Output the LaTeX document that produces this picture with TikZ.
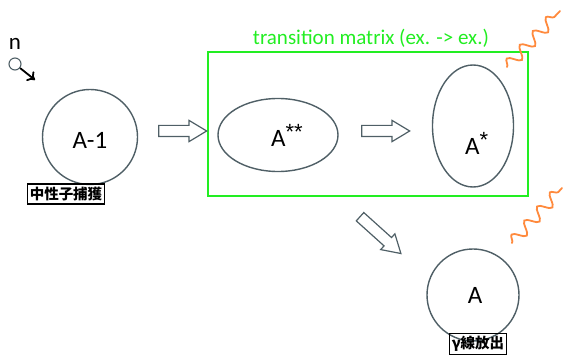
\documentclass[tikz,border=0pt]{standalone}
\usepackage{fontspec}
\setmainfont{Carlito}
\newfontfamily\cjkfont{Noto Sans CJK JP}
\newfontfamily\starfont{Liberation Sans}
\usetikzlibrary{shapes.arrows,shapes.geometric,decorations.pathmorphing,arrows.meta}
\definecolor{rim}{HTML}{4F5F66}
\definecolor{boxgreen}{HTML}{22EE22}
\definecolor{wavecol}{HTML}{FF8A3D}

% raised asterisks for excited states
\newcommand{\starsup}[1]{\raisebox{7pt}{\starfont\fontsize{22}{22}\selectfont #1}}

\begin{document}
\begin{tikzpicture}[x=1pt,y=-1pt,
  nucleus/.style={draw=rim, line width=1.4pt, inner sep=0pt},
  lbl/.style={font=\fontsize{25}{28}\selectfont, inner sep=0pt},
  hollow/.style={single arrow, draw=rim, line width=1.2pt, inner xsep=0pt, inner ysep=5pt,
    minimum height=48pt, single arrow head extend=5pt,
    single arrow tip angle=62},
  tag/.style={draw=black, line width=1.2pt, inner xsep=2.5pt, inner ysep=3pt,
    font=\cjkfont\bfseries\fontsize{14.5}{16}\selectfont},
  photon/.style={draw=wavecol, line width=1.8pt, line cap=round, decorate,
    decoration={snake, amplitude=6pt, segment length=19pt}},
]
\useasboundingbox (0,0) rectangle (565,355);

% incoming neutron
\node[font=\fontsize{23}{24}\selectfont, anchor=base, inner sep=0pt] (nlabel) at (15,50) {n};
\node[circle, draw=rim, line width=1.1pt, minimum size=12pt, inner sep=0pt] (neutron) at (15,64) {};
\coordinate (nend) at (35,80);
\draw[line width=1.8pt, -{To[length=7pt,width=12pt]}] (neutron) -- (nend);

% target nucleus and capture label
\node[nucleus, circle, minimum size=95pt] (target) at (90,137) {};
\node[lbl, anchor=base] (targetlbl) at (90,149) {A-1};
\node[tag] (capture) at (66,194) {中性子捕獲};

% excited states inside the transition block
\node[draw=boxgreen, line width=1.8pt, minimum width=320pt, minimum height=144pt, inner sep=0pt] (block) at (368,124) {};
\node[text=boxgreen, font=\fontsize{21}{24}\selectfont] (blocktitle) at (371,38) {transition matrix (ex. -> ex.)};

\node[nucleus, ellipse, minimum width=120pt, minimum height=73pt] (highex) at (278,135) {};
\node[lbl, anchor=base west] (highexlbl) at (271,147) {A\starsup{**}};
\node[nucleus, ellipse, minimum width=81pt, minimum height=122pt] (lowex) at (473,126) {};
\node[lbl, anchor=base west] (lowexlbl) at (465,155) {A\starsup{*}};

% ground state and emission label
\node[nucleus, circle, minimum size=92pt] (ground) at (473,295) {};
\node[lbl, anchor=base] (groundlbl) at (475,304) {A};
\node[tag] (emission) at (478,344) {γ線放出};

% flow arrows
\node[hollow] (step1) at (178,131) {};
\node[hollow] (step2) at (381,131) {};
\node[hollow, rotate=-42, minimum height=55pt] (step3) at (377,232) {};

% gamma rays
\coordinate (g1a) at (507,67);
\coordinate (g1b) at (560,11);
\coordinate (g2a) at (512,243);
\coordinate (g2b) at (562,188);
\draw[photon] (g1a) -- (g1b);
\draw[photon] (g2a) -- (g2b);
\end{tikzpicture}
\end{document}
